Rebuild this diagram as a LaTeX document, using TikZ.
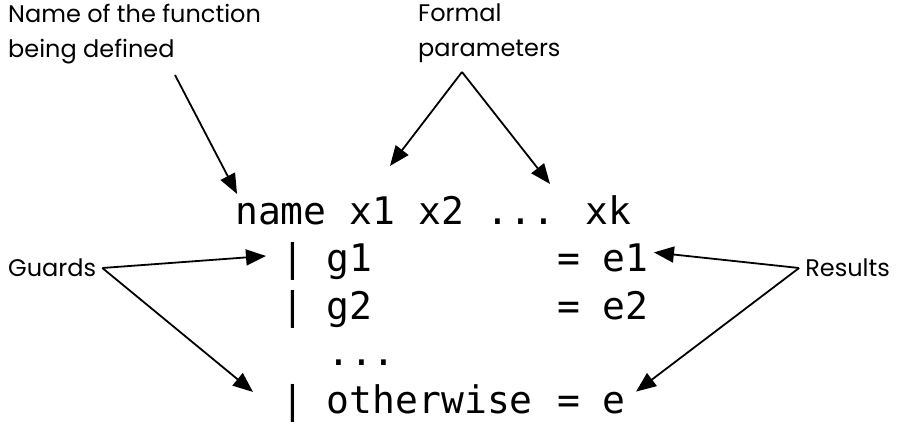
\documentclass[tikz,border=0pt]{standalone}
\usepackage{fontspec}
\setmainfont{Poppins}
\newfontfamily\codefont{DejaVu Sans Mono}
\usetikzlibrary{arrows.meta,calc}
\tikzset{
  note/.style={font=\fontsize{24}{35}\selectfont, align=left, inner sep=0pt},
  code/.style={font=\codefont\fontsize{38}{40}\selectfont, inner sep=0pt, anchor=base west},
  pointer/.style={line width=1.8pt, -{Triangle[length=20pt,width=16pt]}}
}
\begin{document}
\begin{tikzpicture}[x=1pt,y=-1pt]
  \useasboundingbox (0,0) rectangle (900,427);
  % labels
  \node[note, anchor=north west] (fname) at (8,4) {Name of the function\\being defined};
  \node[note, anchor=north west] (formal) at (418,4) {Formal\\parameters};
  \node[note, anchor=west, inner xsep=6pt] (guards) at (2,268) {Guards};
  \node[note, anchor=east, inner xsep=6pt] (results) at (896,268) {Results};
  % code
  \node[code] (l1) at (235,225) {name x1 x2 ... xk};
  \node[code] (l2) at (281,272) {| g1};
  \node[code] (r2) at (557,272) {= e1};
  \node[code] (l3) at (281,320) {| g2};
  \node[code] (r3) at (557,320) {= e2};
  \node[code] (l4) at (327,366) {...};
  \node[code] (l5) at (281,414) {| otherwise};
  \node[code] (r5) at (557,414) {= e};
  % arrows
  \coordinate (fstart) at (175,75);
  \coordinate (pstart) at (462,72);
  \draw[pointer] (fstart) -- ($(l1.north west)+(2,-2)$);
  \draw[pointer] (pstart) -- ($(l1.north west)+(155,-30)$);
  \draw[pointer] (pstart) -- ($(l1.north west)+(315,-12)$);
  \draw[pointer] (guards.east) -- ($(l2.west)+(-15,-6)$);
  \draw[pointer] (guards.east) -- ($(l5.west)+(-28,-12)$);
  \draw[pointer] (results.west) -- ($(r2.east)+(5,-6)$);
  \draw[pointer] (results.west) -- ($(r5.east)+(10,-12)$);
\end{tikzpicture}
\end{document}
